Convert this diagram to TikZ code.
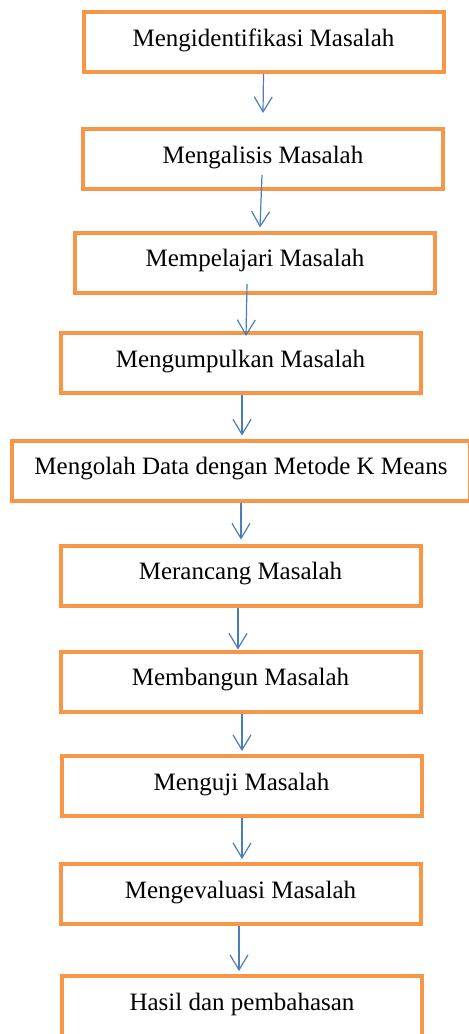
\documentclass[tikz,border=0pt]{standalone}
\usepackage{fontspec}
\setmainfont{Liberation Serif}[Ligatures=NoCommon]
\usepackage{xcolor}
\usepackage{tikz}
\usetikzlibrary{arrows.meta}
\definecolor{boxorange}{RGB}{247,150,70}
\definecolor{flowblue}{RGB}{74,126,187}

\begin{document}
\begin{tikzpicture}[
  x=0.5pt, y=-0.5pt,
  every node/.style={font=\fontsize{12.5}{15}\selectfont},
  box/.style={draw=boxorange, line width=2pt, rectangle, fill=white,
              minimum width=180pt, minimum height=30pt,
              text height=8.5pt, text depth=4.5pt},
  flow/.style={draw=flowblue, line width=0.6pt,
               -{Straight Barb[length=7.5pt, width=9pt, line width=0.6pt]}}
]
\useasboundingbox (0,0) rectangle (468,1034);
\node[box] (ident)     at (263.5,42)    {Mengidentifikasi Masalah};
\node[box] (analisis)  at (263,159)     {Mengalisis Masalah};
\node[box] (pelajari)  at (255,262.5)   {Mempelajari Masalah};
\node[box] (kumpul)    at (240.5,363)   {Mengumpulkan Masalah};
\node[box, minimum width=229pt] (olah) at (241,470.5)
                                        {Mengolah Data dengan Metode K Means};
\node[box] (rancang)   at (240.5,575.5) {Merancang Masalah};
\node[box] (bangun)    at (240.5,681.5) {Membangun Masalah};
\node[box] (uji)       at (241.5,786)   {Menguji Masalah};
\node[box] (evaluasi)  at (240.5,894)   {Mengevaluasi Masalah};
\node[box] (hasil)     at (242,1006)    {Hasil dan pembahasan};
\foreach \a/\b/\sx/\sy/\ex/\ey in {
  ident/analisis/0pt/0pt/0pt/7pt,
  analisis/pelajari/-0.5pt/8pt/2.5pt/1.5pt,
  pelajari/kumpul/-4pt/5.25pt/2.75pt/-2.5pt,
  kumpul/olah/0.75pt/0pt/0.5pt/1.5pt,
  olah/rancang/0pt/0pt/0.25pt/2pt,
  rancang/bangun/-1.25pt/0pt/-1.25pt/0pt,
  bangun/uji/0.75pt/0pt/0.25pt/1.5pt,
  uji/evaluasi/0.25pt/0pt/0.75pt/1.5pt,
  evaluasi/hasil/-0.75pt/0pt/-1.5pt/1.5pt}
  \draw[flow] ([xshift=\sx, yshift=\sy]\a.south) --
    ([xshift=\ex, yshift=\ey]\b.north);
\end{tikzpicture}
\end{document}
